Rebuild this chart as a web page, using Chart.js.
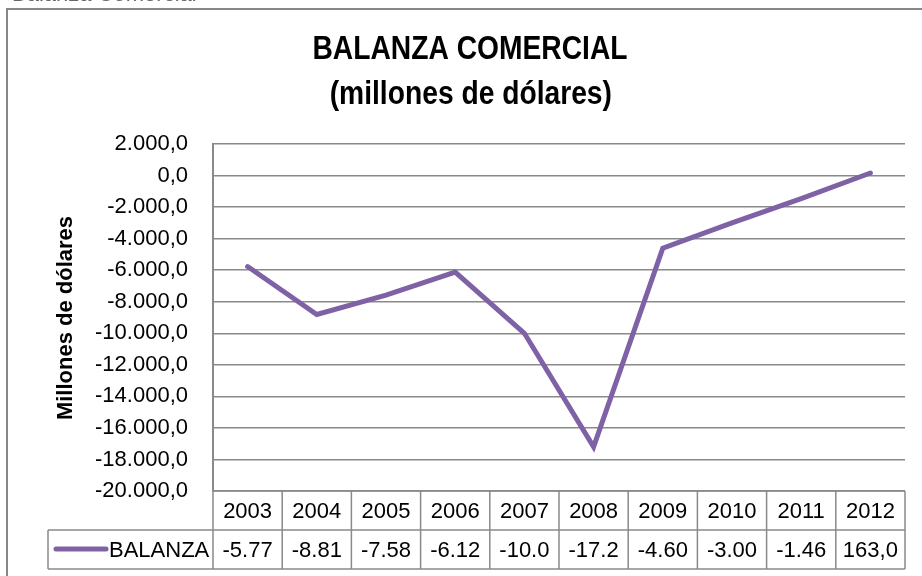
<!DOCTYPE html>
<html>
<head>
<meta charset="utf-8">
<script src="https://cdn.jsdelivr.net/npm/chart.js@4/dist/chart.umd.min.js"></script>
<style>
  html, body { margin: 0; padding: 0; background: #fff; }
  #wrap { width: 922px; height: 576px; }
</style>
</head>
<body>
<div id="wrap"><canvas id="balanza" width="922" height="576"></canvas></div>
<script>
// datos del grafico
var years = ['2003', '2004', '2005', '2006', '2007', '2008', '2009', '2010', '2011', '2012'];
var balanza = [-5770, -8810, -7580, -6120, -10000, -17200, -4600, -3000, -1460, 163];
// texto tal como aparece en la tabla de datos
var tableLabels = ['-5.77', '-8.81', '-7.58', '-6.12', '-10.0', '-17.2', '-4.60', '-3.00', '-1.46', '163,0'];
var yTicks = [2000, 0, -2000, -4000, -6000, -8000, -10000, -12000, -14000, -16000, -18000, -20000];

var lineColor = '#7f62a5';
var gridColor = '#8a8a8a';
var fontFam = '"Liberation Sans", Arial, sans-serif';

function fmt(v) {
    var parts = Math.abs(v).toFixed(1).split('.');
    var ent = parts[0].replace(/\B(?=(\d{3})+(?!\d))/g, '.');
    return (v < 0 ? '-' : '') + ent + ',' + parts[1];
}

var extras = {
    id: 'extras',
    afterDraw: function(chart) {
        var c = chart.ctx;
        var area = chart.chartArea;
        c.save();

        // texto cortado arriba
        c.fillStyle = '#666';
        c.font = '22px ' + fontFam;
        c.textAlign = 'left';
        c.textBaseline = 'alphabetic';
        c.fillText('Balanza Comercial', 12, 1);

        // marco
        c.strokeStyle = '#878787';
        c.lineWidth = 2;
        c.strokeRect(7, 9, 1000, 1000);

        // titulo (letra estrecha)
        c.fillStyle = '#000';
        c.textAlign = 'center';
        c.textBaseline = 'middle';
        c.font = 'bold 34px ' + fontFam;
        c.save();
        c.translate(470, 0);
        c.scale(0.83, 1);
        c.fillText('BALANZA COMERCIAL', 0, 50);
        c.fillText('(millones de dólares)', 1, 95);
        c.restore();

        // titulo eje y
        c.save();
        c.translate(66, 318);
        c.rotate(-Math.PI / 2);
        c.font = 'bold 22px ' + fontFam;
        c.fillText('Millones de dólares', 0, 0);
        c.restore();

        // tabla de datos
        var n = years.length;
        var w = (area.right - area.left) / n;
        var top = area.bottom;
        var mid = 530;
        var bot = 569;
        var legLeft = 48;
        c.strokeStyle = gridColor;
        c.lineWidth = 1.5;
        c.beginPath();
        c.moveTo(area.left, top); c.lineTo(area.right, top);
        c.moveTo(legLeft, mid); c.lineTo(area.right, mid);
        c.moveTo(legLeft, bot); c.lineTo(area.right, bot);
        c.moveTo(legLeft, mid); c.lineTo(legLeft, bot);
        for (var i = 0; i <= n; i++) {
            var x = area.left + i * w;
            c.moveTo(x, top); c.lineTo(x, bot);
        }
        c.stroke();

        c.fillStyle = '#000';
        c.font = '22px ' + fontFam;
        c.textAlign = 'center';
        c.textBaseline = 'middle';
        for (var j = 0; j < n; j++) {
            var cx = chart.scales.x.getPixelForValue(j);
            c.fillText(years[j], cx, (top + mid) / 2 + 1);
            c.fillText(tableLabels[j], cx, (mid + bot) / 2 + 1);
        }

        // leyenda dentro de la tabla
        c.strokeStyle = lineColor;
        c.lineWidth = 5;
        c.lineCap = 'round';
        c.beginPath();
        c.moveTo(56, 549); c.lineTo(106, 549);
        c.stroke();
        c.textAlign = 'left';
        c.fillText('BALANZA', 109, (mid + bot) / 2 + 1);

        c.restore();
    }
};

new Chart(document.getElementById('balanza').getContext('2d'), {
    type: 'line',
    data: {
        labels: years,
        datasets: [{
            label: 'BALANZA',
            data: balanza,
            borderColor: lineColor,
            backgroundColor: lineColor,
            borderWidth: 5,
            pointRadius: 0,
            tension: 0,
            borderCapStyle: 'round',
            borderJoinStyle: 'miter'
        }]
    },
    options: {
        responsive: false,
        animation: false,
        layout: { padding: { left: 0, right: 17, top: 144, bottom: 85 } },
        plugins: {
            legend: { display: false },
            title: { display: false },
            tooltip: { enabled: false }
        },
        scales: {
            x: {
                display: false,
                offset: true
            },
            y: {
                min: -20000,
                max: 2000,
                afterFit: function(s) { s.width = 213; },
                afterBuildTicks: function(s) {
                    s.ticks = yTicks.map(function(v) { return { value: v }; });
                },
                grid: { color: gridColor, lineWidth: 1.5, drawTicks: false },
                border: { display: true, color: gridColor, width: 2 },
                ticks: {
                    padding: 25,
                    color: '#000',
                    font: { family: fontFam, size: 22 },
                    callback: function(v) { return fmt(v); }
                }
            }
        }
    },
    plugins: [extras]
});
</script>
</body>
</html>
